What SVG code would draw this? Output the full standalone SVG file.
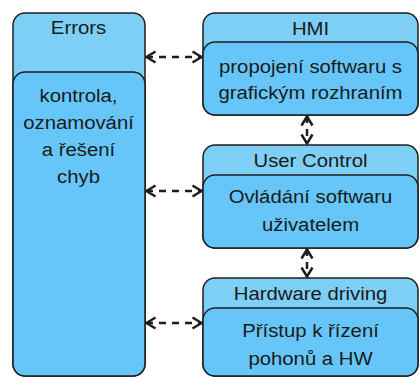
<svg xmlns="http://www.w3.org/2000/svg" width="420" height="378" viewBox="0 0 420 378">
<style>
.outer{fill:#7ecff6;stroke:#1e1e1e;stroke-width:1.5}
.inner{fill:#66c6f9;stroke:#1e1e1e;stroke-width:1.5}
text{font-family:"Liberation Sans",Arial,sans-serif;font-size:18px;fill:#1a1a1a;text-anchor:middle}
.conn{fill:none;stroke:#1e1e1e;stroke-width:2.5;stroke-dasharray:7 6}
</style>
<defs>
<marker id="ah" viewBox="0 0 12 14" refX="11" refY="7" markerWidth="12" markerHeight="14" markerUnits="userSpaceOnUse" orient="auto-start-reverse">
<path d="M1.5,1.5 L10.5,7 L1.5,12.5" fill="none" stroke="#1e1e1e" stroke-width="2.5"/>
</marker>
</defs>
<rect width="420" height="378" fill="#ffffff"/>
<g id="errors">
<rect class="outer" x="13" y="13" width="132" height="363" rx="12"/>
<rect class="inner" x="13" y="72" width="132" height="304" rx="12"/>
<g transform="scale(1.13 1)">
<text x="69.5" y="34">Errors</text>
<text x="69.5" y="102">kontrola,</text>
<text x="69.5" y="129.5">oznamování</text>
<text x="69.5" y="156.5">a řešení</text>
<text x="69.5" y="183">chyb</text>
</g>
</g>
<g id="hmi">
<rect class="outer" x="203" y="13" width="215" height="102" rx="12"/>
<rect class="inner" x="203" y="42" width="215" height="73" rx="12"/>
<g transform="scale(1.13 1)">
<text x="274.8" y="35">HMI</text>
<text x="274.8" y="73">propojení softwaru s</text>
<text x="274.8" y="99">grafickým rozhraním</text>
</g>
</g>
<g id="user-control">
<rect class="outer" x="203" y="145" width="215" height="103" rx="12"/>
<rect class="inner" x="203" y="175" width="215" height="73" rx="12"/>
<g transform="scale(1.13 1)">
<text x="274.8" y="167">User Control</text>
<text x="274.8" y="203">Ovládání softwaru</text>
<text x="274.8" y="231">uživatelem</text>
</g>
</g>
<g id="hardware-driving">
<rect class="outer" x="203" y="278" width="215" height="98" rx="12"/>
<rect class="inner" x="203" y="308" width="215" height="68" rx="12"/>
<g transform="scale(1.13 1)">
<text x="274.8" y="300">Hardware driving</text>
<text x="274.8" y="337">Přístup k řízení</text>
<text x="274.8" y="365">pohonů a HW</text>
</g>
</g>
<g id="connectors">
<line class="conn" x1="146" y1="57" x2="202" y2="57" marker-start="url(#ah)" marker-end="url(#ah)"/>
<line class="conn" x1="146" y1="191" x2="202" y2="191" marker-start="url(#ah)" marker-end="url(#ah)"/>
<line class="conn" x1="146" y1="323" x2="202" y2="323" marker-start="url(#ah)" marker-end="url(#ah)"/>
<line class="conn" x1="307" y1="116" x2="307" y2="144" marker-start="url(#ah)" marker-end="url(#ah)"/>
<line class="conn" x1="307" y1="249" x2="307" y2="277" marker-start="url(#ah)" marker-end="url(#ah)"/>
</g>
</svg>
